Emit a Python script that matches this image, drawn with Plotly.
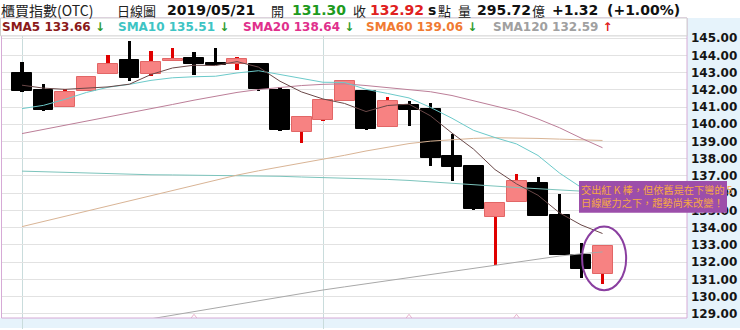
import plotly.graph_objects as go

# ---------------- data ----------------
idx = list(range(28))
opens = [142.98, 142.02, 141.02, 141.92, 142.94, 143.71, 142.92, 143.67, 143.85, 143.56,
         143.50, 143.52, 141.98, 139.56, 140.25, 141.34, 141.96, 139.83, 141.10, 140.87,
         138.17, 137.56, 134.60, 135.46, 136.61, 134.75, 132.40, 131.30]
closes = [141.92, 140.81, 141.86, 142.75, 143.52, 142.69, 143.62, 143.79, 143.52, 143.44,
          143.81, 142.06, 139.65, 140.44, 141.40, 142.52, 139.71, 141.38, 140.84, 138.02,
          137.50, 135.06, 135.43, 136.70, 134.69, 132.40, 131.60, 132.92]
highs = [143.59, 142.36, 142.06, 142.77, 144.00, 144.84, 144.23, 144.44, 144.17, 144.42,
         143.88, 143.52, 142.15, 140.44, 141.40, 142.60, 141.96, 141.60, 141.33, 141.21,
         139.42, 137.56, 135.43, 137.12, 136.93, 135.95, 133.08, 132.92]
lows = [141.88, 140.78, 141.00, 141.92, 142.94, 142.50, 142.83, 143.67, 142.88, 143.44,
        143.13, 141.92, 139.60, 138.90, 140.17, 141.34, 139.67, 139.83, 139.90, 137.58,
        136.73, 135.00, 131.83, 135.46, 134.69, 132.40, 131.06, 130.72]

sma5 = [142.27, 142.10, 142.03, 142.08, 142.17, 142.33, 142.89, 143.27, 143.43, 143.41,
        143.64, 143.32, 142.50, 141.88, 141.47, 141.21, 140.74, 141.09, 141.17, 140.49,
        139.49, 138.56, 137.37, 136.54, 135.88, 134.86, 134.16, 133.66]
sma10 = [140.91, 141.10, 141.45, 141.85, 142.15, 142.32, 142.55, 142.70, 142.76, 142.79,
         142.98, 143.11, 142.89, 142.65, 142.44, 142.43, 142.03, 141.79, 141.53, 140.98,
         140.35, 139.65, 139.23, 138.86, 138.19, 137.17, 136.36, 135.51]
sma20 = [139.46, 139.70, 139.92, 140.15, 140.40, 140.65, 140.90, 141.15, 141.40, 141.62,
         141.85, 142.02, 142.15, 142.25, 142.32, 142.35, 142.25, 142.12, 142.00, 141.89,
         141.67, 141.38, 141.06, 140.76, 140.31, 139.80, 139.20, 138.64]
sma60 = [134.06, 134.36, 134.66, 134.96, 135.26, 135.56, 135.86, 136.15, 136.45, 136.75,
         137.05, 137.30, 137.52, 137.75, 137.98, 138.20, 138.45, 138.68, 138.88, 139.02,
         139.12, 139.18, 139.22, 139.22, 139.18, 139.14, 139.10, 139.06]
sma120 = [127.45, 127.66, 127.87, 128.08, 128.29, 128.50, 128.72, 128.93, 129.14, 129.35,
          129.56, 129.77, 130.00, 130.20, 130.38, 130.56, 130.74, 130.92, 131.10, 131.28,
          131.46, 131.64, 131.82, 132.00, 132.18, 132.35, 132.48, 132.59]
sma_long = [137.28, 137.24, 137.20, 137.16, 137.12, 137.09, 137.07, 137.06, 137.05, 137.04,
            137.03, 137.01, 136.98, 136.94, 136.91, 136.88, 136.84, 136.80, 136.74, 136.65,
            136.56, 136.48, 136.40, 136.33, 136.26, 136.18, 136.11, 136.05]
tri_idx = [8, 18, 23]
ytick_vals = list(range(129, 146))
grid_x = [0, 14]

title_name = "櫃買指數(OTC)"
title_kind = "日線圖"
title_date = "2019/05/21"
last_open = "131.30"
last_close = "132.92"
last_vol = "295.72"
last_chg = "+1.32"
last_pct = "(+1.00%)"
legend_items = [("SMA5", "133.66", "down", "#8B1A1A"),
                ("SMA10", "135.51", "down", "#3EC4C4"),
                ("SMA20", "138.64", "down", "#E0308C"),
                ("SMA60", "139.06", "down", "#F07A32"),
                ("SMA120", "132.59", "up", "#A0A0A0")]
note_text = "交出紅 K 棒，但依舊是在下彎的 5<br>日線壓力之下，趨勢尚未改變！"

# ---------------- layout helpers ----------------
W, H = 740, 330
ML, MR, MT, MB = 2, 53, 18, 10
PW, PH = W - ML - MR, H - MT - MB


def px(x):
    return (x - ML) / PW


def py(y):
    return (H - MB - y) / PH


CJK = "Noto Sans CJK TC"
NUM = "DejaVu Sans"

up = [c >= o for o, c in zip(opens, closes)]
wick_col = ["#E00000" if u else "#000000" for u in up]
body_col = ["#F78282" if u else "#000000" for u in up]
body_line = ["#E26666" if u else "#000000" for u in up]

fig = go.Figure()
fig.add_trace(go.Bar(x=idx, y=[h - l for h, l in zip(highs, lows)], base=lows,
                     width=0.14, marker=dict(color=wick_col, line=dict(width=0)),
                     hoverinfo="skip"))
fig.add_trace(go.Bar(x=idx, y=[c - o for o, c in zip(opens, closes)], base=opens,
                     width=0.93, marker=dict(color=body_col, line=dict(color=body_line, width=1)),
                     hoverinfo="skip"))

for vals, col in [(sma120, "#A8A8A8"), (sma_long, "#7CC4BC"), (sma60, "#D9B495"),
                  (sma20, "#BC7E98"), (sma10, "#6CCACA"), (sma5, "#6A4848")]:
    fig.add_trace(go.Scatter(x=idx, y=vals, mode="lines", line=dict(color=col, width=1),
                             hoverinfo="skip"))

fig.add_trace(go.Scatter(x=tri_idx, y=[128.68] * len(tri_idx), mode="markers",
                         marker=dict(symbol="triangle-up-open", size=10, color="#E8B4CC",
                                     line=dict(width=1)),
                         hoverinfo="skip"))

shapes = [
    # right axis background & bottom strip
    dict(type="rect", xref="paper", yref="paper", x0=1, x1=px(W), y0=py(H), y1=py(MT),
         fillcolor="#E6F3FB", line=dict(width=0), layer="below"),
    dict(type="rect", xref="paper", yref="paper", x0=px(0), x1=px(W), y0=py(H), y1=0,
         fillcolor="#E6F3FB", line=dict(width=0), layer="below"),
    # plot frame
    dict(type="rect", xref="paper", yref="paper", x0=px(1.5), x1=1, y0=0, y1=1,
         line=dict(color="#D6AAD6", width=1), layer="above"),
    # legend row box
    dict(type="rect", xref="paper", yref="paper", x0=px(0.5), x1=1, y0=py(36), y1=py(18),
         fillcolor="white", line=dict(color="#CFCFCF", width=1), layer="above"),
    # note box
    dict(type="rect", xref="paper", yref="paper", x0=px(579), x1=px(727), y0=py(214), y1=py(182),
         fillcolor="#9C4EAA", line=dict(width=0), layer="above"),
    # circle around last candle
    dict(type="circle", xref="x", yref="y", x0=26.05, x1=28.1, y0=130.37, y1=134.06,
         line=dict(color="#8A3FA0", width=2), layer="above"),
]

ann = []


def txt(x, y, s, family, size, color, bold=False):
    ann.append(dict(x=px(x), y=py(y), xref="paper", yref="paper", text=s, showarrow=False,
                    xanchor="left", yanchor="middle", borderpad=0, borderwidth=0,
                    font=dict(family=family, size=size, color=color,
                              weight="bold" if bold else "normal")))


# header row
txt(1, 10, title_name, CJK, 14, "#222222")
txt(117, 10, title_kind, CJK, 13, "#222222")
txt(167, 10, title_date, NUM, 14, "#111111", True)
txt(271, 10, "開", CJK, 13, "#222222")
txt(292, 10, last_open, NUM, 14, "#1E9A1E", True)
txt(353, 10, "收", CJK, 13, "#222222")
txt(370, 10, last_close, NUM, 14, "#E02020", True)
txt(428, 10, "s", NUM, 14, "#111111", True)
txt(438, 10, "點", CJK, 13, "#222222")
txt(458, 10, "量", CJK, 13, "#222222")
txt(477, 10, last_vol, NUM, 14, "#111111", True)
txt(532, 10, "億", CJK, 13, "#222222")
txt(552, 10, last_chg, NUM, 14, "#111111", True)
txt(607, 10, last_pct, NUM, 14, "#111111", True)

# SMA legend row
leg_x = [2, 118, 243, 366, 493]
for (name, val, d, col), lx in zip(legend_items, leg_x):
    arrow = '<span style="color:#2E9B2E">↓</span>' if d == "down" else '<span style="color:#E02020">↑</span>'
    txt(lx, 27, f"{name} {val} {arrow}", NUM, 12, col, True)

# note text
ann.append(dict(x=px(581), y=py(183), xref="paper", yref="paper", text=note_text,
                showarrow=False, xanchor="left", yanchor="top", align="left",
                borderpad=0, borderwidth=0,
                font=dict(family=CJK, size=10.2, color="#F6A844")))

fig.update_layout(
    width=W, height=H, margin=dict(l=ML, r=MR, t=MT, b=MB),
    paper_bgcolor="white", plot_bgcolor="white",
    showlegend=False, barmode="overlay", bargap=0,
    shapes=shapes, annotations=ann,
    xaxis=dict(range=[-0.93, 30.93], tickvals=grid_x, showticklabels=False,
               showgrid=True, gridcolor="#C9DCDC", gridwidth=1, zeroline=False,
               ticks="outside", ticklen=10, tickcolor="#C9DCDC", showline=False,
               fixedrange=True),
    yaxis=dict(range=[128.754, 146.171], side="right", tickvals=ytick_vals,
               tickformat=".2f", showgrid=True, gridcolor="#E2E2E2", gridwidth=1,
               zeroline=False, ticks="", showline=False, ticklabelstandoff=3,
               tickfont=dict(family=NUM, size=12, color="#151515", weight="bold"),
               fixedrange=True),
)

fig.write_html("out.html")
